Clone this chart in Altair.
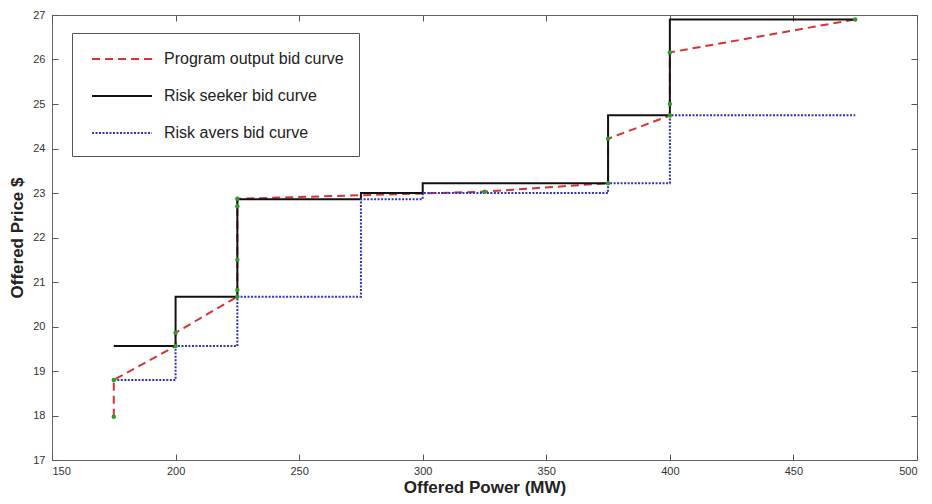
import altair as alt
import pandas as pd

# ---- data ----
series_names = ["Program output bid curve", "Risk seeker bid curve", "Risk avers bid curve"]
series_colors = ["#d63333", "#111111", "#3232b4"]
series_dashes = [[8, 5], [1, 0], [2, 1.5]]

seeker_x = [175, 200, 225, 275, 300, 375, 400, 475]
seeker_y = [19.56, 20.67, 22.86, 23.0, 23.22, 24.75, 26.9, 26.9]

avers_x = [175, 200, 225, 275, 300, 375, 400, 475]
avers_y = [18.8, 19.56, 20.67, 22.86, 23.0, 23.22, 24.75, 24.75]

prog_x = [175, 175, 200, 200, 225, 225, 225, 225, 225, 325, 375, 375, 400, 400, 400, 475]
prog_y = [17.97, 18.8, 19.56, 19.86, 20.67, 20.82, 21.5, 22.7, 22.87, 23.03, 23.22, 24.22, 24.74, 25.0, 26.16, 26.9]

x_ticks = [150, 200, 250, 300, 350, 400, 450, 500]
y_ticks = [17, 18, 19, 20, 21, 22, 23, 24, 25, 26, 27]

# ---- tables ----
rows = []
for i, (x, y) in enumerate(zip(prog_x, prog_y)):
    rows.append({"series": series_names[0], "x": x, "y": y, "order": i})
for i, (x, y) in enumerate(zip(seeker_x, seeker_y)):
    rows.append({"series": series_names[1], "x": x, "y": y, "order": i})
for i, (x, y) in enumerate(zip(avers_x, avers_y)):
    rows.append({"series": series_names[2], "x": x, "y": y, "order": i})
df = pd.DataFrame(rows)

xs = alt.Scale(domain=[150, 500], nice=False, zero=False)
ys = alt.Scale(domain=[17, 27], nice=False, zero=False)

legend = alt.Legend(
    orient="none", legendX=20, legendY=18, title=None,
    symbolType="M-0.6,0H5.4", symbolSize=400, symbolStrokeWidth=2,
    labelOffset=55, labelFontSize=16, labelFont="Liberation Sans",
    labelColor="#222", labelLimit=400, padding=15, rowPadding=18,
    strokeColor="#555", fillColor="white", cornerRadius=0,
)
color_enc = alt.Color("series:N", scale=alt.Scale(domain=series_names, range=series_colors), legend=legend)
dash_enc = alt.StrokeDash("series:N", scale=alt.Scale(domain=series_names, range=series_dashes), legend=legend)

bottom_axis = alt.Axis(values=x_ticks, offset=-6, tickSize=6, domain=False, labelPadding=5,
                       title="Offered Power (MW)", titlePadding=3, format="d")
left_axis = alt.Axis(values=y_ticks, offset=-6, tickSize=6, domain=False, labelPadding=7,
                     title="Offered Price $", titlePadding=6, format="d")
top_axis = alt.Axis(values=x_ticks, orient="top", offset=-6, tickSize=6, domain=False,
                    labels=False, title=None)
right_axis = alt.Axis(values=y_ticks, orient="right", offset=-6, tickSize=6, domain=False,
                      labels=False, title=None)

base = alt.Chart(df)

prog = base.transform_filter(
    alt.FieldEqualPredicate(field="series", equal=series_names[0])
).mark_line(strokeWidth=2).encode(
    x=alt.X("x:Q", scale=xs, axis=bottom_axis),
    y=alt.Y("y:Q", scale=ys, axis=left_axis),
    color=color_enc,
    strokeDash=dash_enc,
    order="order:Q",
)

steps = base.transform_filter(
    alt.FieldOneOfPredicate(field="series", oneOf=series_names[1:])
).mark_line(interpolate="step-after", strokeWidth=2).encode(
    x=alt.X("x:Q", scale=xs, axis=None),
    y=alt.Y("y:Q", scale=ys, axis=None),
    color=color_enc,
    strokeDash=dash_enc,
    order="order:Q",
)

dots = base.transform_filter(
    alt.FieldEqualPredicate(field="series", equal=series_names[0])
).mark_circle(size=20, color="#2a9d2a", opacity=1).encode(
    x=alt.X("x:Q", scale=xs, axis=top_axis),
    y=alt.Y("y:Q", scale=ys, axis=right_axis),
)

chart = alt.layer(prog, steps, dots).resolve_axis(
    x="independent", y="independent"
).properties(
    width=865, height=445,
    autosize=alt.AutoSizeParams(type="none"),
    padding={"left": 44, "top": 7, "right": 7, "bottom": 36},
).configure_axis(
    labelFont="Liberation Sans", labelFontSize=11, labelColor="#333",
    titleFont="Liberation Sans", titleFontSize=17, titleFontWeight="bold",
    titleColor="#222", tickColor="#555", grid=False,
).configure_view(stroke="#666", strokeWidth=1)

chart.save("out.html", embed_options={"renderer": "svg", "actions": False})
